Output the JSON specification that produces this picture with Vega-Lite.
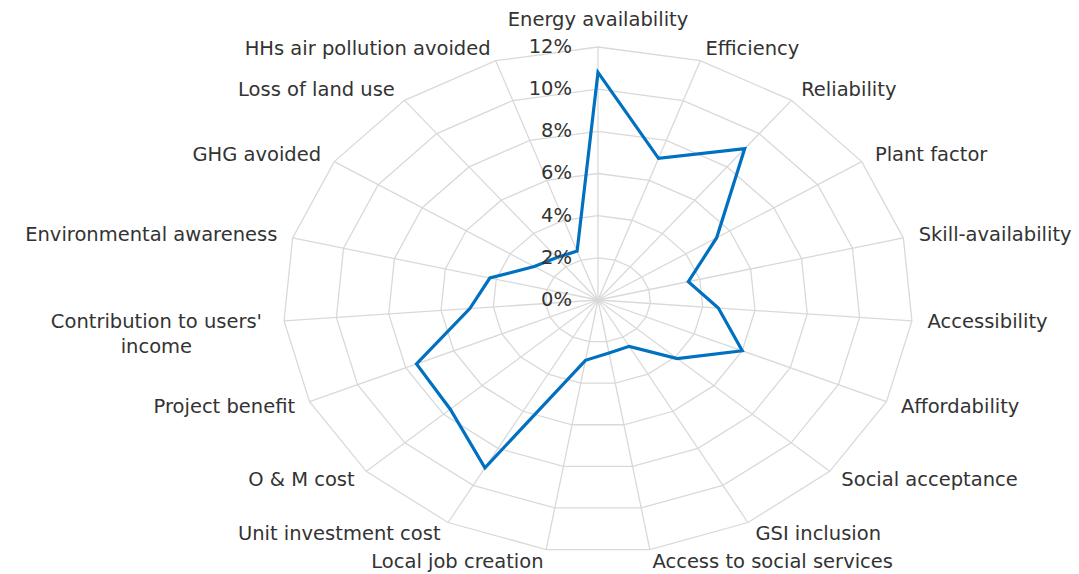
{
  "$schema": "https://vega.github.io/schema/vega-lite/v6.json",
  "width": 1079,
  "height": 574,
  "padding": 0,
  "autosize": {"type": "none"},
  "background": "white",
  "config": {"view": {"stroke": null}},
  "datasets": {
    "cats": [
      {"i": 0, "category": "Energy availability", "value": 10.8},
      {"i": 1, "category": "Efficiency", "value": 7.1},
      {"i": 2, "category": "Reliability", "value": 9.1},
      {"i": 3, "category": "Plant factor", "value": 5.4},
      {"i": 4, "category": "Skill-availability", "value": 3.55},
      {"i": 5, "category": "Accessibility", "value": 4.6},
      {"i": 6, "category": "Affordability", "value": 6.0},
      {"i": 7, "category": "Social acceptance", "value": 4.1},
      {"i": 8, "category": "GSI inclusion", "value": 2.5},
      {"i": 9, "category": "Access to social services", "value": 2.55},
      {"i": 10, "category": "Local job creation", "value": 2.9},
      {"i": 11, "category": "Unit investment cost", "value": 9.05},
      {"i": 12, "category": "O & M cost", "value": 7.65},
      {"i": 13, "category": "Project benefit", "value": 7.55},
      {"i": 14, "category": "Contribution to users'\nincome", "value": 4.9},
      {"i": 15, "category": "Environmental awareness", "value": 4.25},
      {"i": 16, "category": "GHG avoided", "value": 2.9},
      {"i": 17, "category": "Loss of land use", "value": 2.55},
      {"i": 18, "category": "HHs air pollution avoided", "value": 2.45}
    ],
    "ticks": [
      {"level": 0, "label": "0%"},
      {"level": 2, "label": "2%"},
      {"level": 4, "label": "4%"},
      {"level": 6, "label": "6%"},
      {"level": 8, "label": "8%"},
      {"level": 10, "label": "10%"},
      {"level": 12, "label": "12%"}
    ]
  },
  "encoding": {
    "x": {"field": "px", "type": "quantitative", "axis": null, "scale": {"domain": [-22.781, 18.324], "nice": false, "zero": false}},
    "y": {"field": "py", "type": "quantitative", "axis": null, "scale": {"domain": [-12.996, 14.229], "nice": false, "zero": false}}
  },
  "layer": [
    {
      "data": {"name": "cats"},
      "transform": [
        {"calculate": "[2,4,6,8,10,12]", "as": "lv"},
        {"flatten": ["lv"]},
        {"calculate": "datum.lv*sin(datum.i*2*PI/19)", "as": "px"},
        {"calculate": "datum.lv*cos(datum.i*2*PI/19)", "as": "py"}
      ],
      "mark": {"type": "line", "interpolate": "linear-closed", "stroke": "#d9d9d9", "strokeWidth": 1.3},
      "encoding": {
        "detail": {"field": "lv", "type": "quantitative"},
        "order": {"field": "i", "type": "quantitative"}
      }
    },
    {
      "data": {"name": "cats"},
      "transform": [
        {"calculate": "0", "as": "px"},
        {"calculate": "0", "as": "py"},
        {"calculate": "12*sin(datum.i*2*PI/19)", "as": "qx"},
        {"calculate": "12*cos(datum.i*2*PI/19)", "as": "qy"}
      ],
      "mark": {"type": "rule", "stroke": "#d9d9d9", "strokeWidth": 1.3},
      "encoding": {
        "x2": {"field": "qx"},
        "y2": {"field": "qy"}
      }
    },
    {
      "data": {"name": "cats"},
      "transform": [
        {"calculate": "datum.value*sin(datum.i*2*PI/19)", "as": "px"},
        {"calculate": "datum.value*cos(datum.i*2*PI/19)", "as": "py"}
      ],
      "mark": {"type": "line", "interpolate": "linear-closed", "stroke": "#0070C0", "strokeWidth": 3.2, "strokeJoin": "miter"},
      "encoding": {
        "order": {"field": "i", "type": "quantitative"}
      }
    },
    {
      "data": {"name": "ticks"},
      "transform": [
        {"calculate": "0", "as": "px"},
        {"calculate": "datum.level", "as": "py"}
      ],
      "mark": {"type": "text", "align": "right", "baseline": "middle", "dx": -26, "font": "DejaVu Sans", "fontSize": 19.5, "fill": "#333333"},
      "encoding": {"text": {"field": "label"}}
    },
    {
      "data": {"name": "cats"},
      "transform": [
        {"filter": "datum.i == 0"},
        {"calculate": "0", "as": "px"},
        {"calculate": "12", "as": "py"}
      ],
      "mark": {"type": "text", "align": "center", "baseline": "middle", "dy": -27, "font": "DejaVu Sans", "fontSize": 19.5, "fill": "#333333"},
      "encoding": {"text": {"field": "category"}}
    },
    {
      "data": {"name": "cats"},
      "transform": [
        {"filter": "datum.i >= 1 && datum.i <= 9"},
        {"calculate": "12.6*sin(datum.i*2*PI/19)", "as": "px"},
        {"calculate": "12.6*cos(datum.i*2*PI/19)", "as": "py"}
      ],
      "mark": {"type": "text", "align": "left", "baseline": "middle", "font": "DejaVu Sans", "fontSize": 19.5, "fill": "#333333"},
      "encoding": {"text": {"field": "category"}}
    },
    {
      "data": {"name": "cats"},
      "transform": [
        {"filter": "datum.i >= 10 && datum.i != 14"},
        {"calculate": "12.6*sin(datum.i*2*PI/19)", "as": "px"},
        {"calculate": "12.6*cos(datum.i*2*PI/19)", "as": "py"}
      ],
      "mark": {"type": "text", "align": "right", "baseline": "middle", "font": "DejaVu Sans", "fontSize": 19.5, "fill": "#333333"},
      "encoding": {"text": {"field": "category"}}
    },
    {
      "data": {"name": "cats"},
      "transform": [
        {"filter": "datum.i == 14"},
        {"calculate": "12.6*sin(datum.i*2*PI/19)", "as": "px"},
        {"calculate": "12.6*cos(datum.i*2*PI/19)", "as": "py"}
      ],
      "mark": {"type": "text", "align": "center", "baseline": "middle", "dx": -112, "lineBreak": "\n", "lineHeight": 25, "font": "DejaVu Sans", "fontSize": 19.5, "fill": "#333333"},
      "encoding": {"text": {"field": "category"}}
    }
  ]
}
